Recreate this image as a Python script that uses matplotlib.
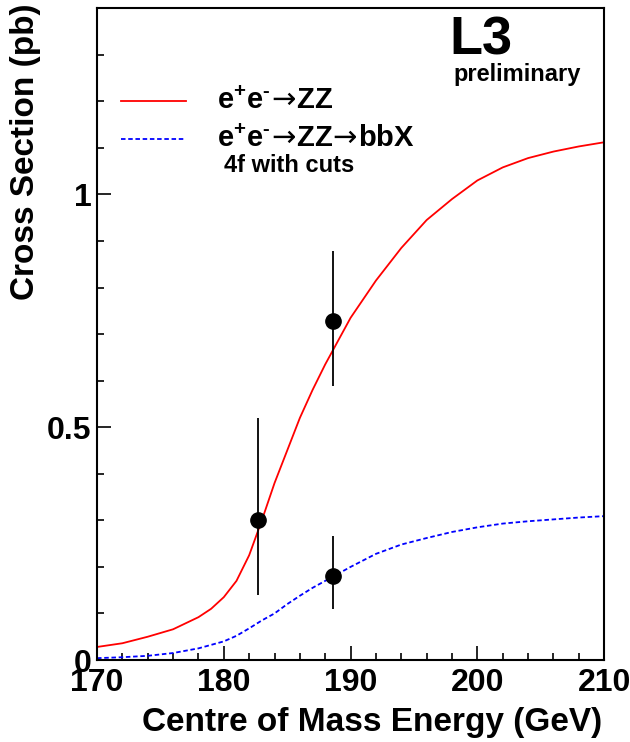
import numpy as np
import matplotlib
matplotlib.use("Agg")
import matplotlib.pyplot as plt
from matplotlib.ticker import MultipleLocator

# --- Data ---
energy_zz = [170, 172, 174, 176, 178, 179, 180, 181, 182, 183, 184, 185, 186, 187,
             188, 189, 190, 192, 194, 196, 198, 200, 202, 204, 206, 208, 210]
xsec_zz = [0.028, 0.036, 0.050, 0.066, 0.092, 0.110, 0.135, 0.170, 0.225, 0.300, 0.380,
           0.450, 0.520, 0.580, 0.635, 0.685, 0.735, 0.815, 0.885, 0.945, 0.990, 1.030,
           1.058, 1.078, 1.092, 1.103, 1.112]

energy_bb = [170, 172, 174, 176, 178, 180, 181, 182, 183, 184, 185, 186, 187, 188,
             189, 190, 192, 194, 196, 198, 200, 202, 204, 206, 208, 210]
xsec_bb = [0.004, 0.006, 0.009, 0.015, 0.025, 0.040, 0.052, 0.068, 0.085, 0.100, 0.120,
           0.138, 0.155, 0.170, 0.185, 0.200, 0.228, 0.248, 0.262, 0.275, 0.285, 0.293,
           0.298, 0.302, 0.306, 0.309]

data_energy = [182.7, 188.6, 188.6]
data_xsec = [0.30, 0.728, 0.18]
err_low = [0.16, 0.14, 0.07]
err_high = [0.22, 0.15, 0.087]

plt.rcParams['font.family'] = ['Liberation Sans', 'DejaVu Sans']
plt.rcParams['font.weight'] = 'bold'
plt.rcParams['mathtext.fontset'] = 'custom'
plt.rcParams['mathtext.rm'] = 'Liberation Sans:bold'
plt.rcParams['mathtext.bf'] = 'Liberation Sans:bold'
plt.rcParams['mathtext.it'] = 'Liberation Sans:bold'
plt.rcParams['mathtext.sf'] = 'DejaVu Sans:normal'

fig = plt.figure(figsize=(6.3, 7.42), dpi=100)
ax = fig.add_axes([0.154, 0.1105, 0.805, 0.8785])

ax.plot(energy_zz, xsec_zz, color='red', lw=1.3)
ax.plot(energy_bb, xsec_bb, color='blue', lw=1.3, ls=(0, (2.5, 1.5)))
ax.errorbar(data_energy, data_xsec, yerr=[err_low, err_high], fmt='o', color='black',
            ms=11, elinewidth=1.3, capsize=0)

ax.set_xlim(170, 210)
ax.set_ylim(0, 1.4)
ax.xaxis.set_major_locator(MultipleLocator(10))
ax.xaxis.set_minor_locator(MultipleLocator(2))
ax.yaxis.set_minor_locator(MultipleLocator(0.1))
ax.set_yticks([0, 0.5, 1])
ax.set_yticklabels(['0', '0.5', '1'])
ax.tick_params(which='both', direction='in', top=False, right=False, width=1.2)
ax.tick_params(which='major', length=10, labelsize=23, pad=4)
ax.tick_params(which='minor', length=5)
ax.tick_params(axis='x', pad=6)
for s in ax.spines.values():
    s.set_linewidth(1.5)

ax.set_xlabel('Centre of Mass Energy (GeV)', fontsize=24, fontweight='bold', ha='right')
ax.xaxis.set_label_coords(0.995, -0.072)
ax.set_ylabel('Cross Section (pb)', fontsize=24, fontweight='bold')
ax.yaxis.set_label_coords(-0.11, 0.78)

# Legend, drawn by hand like the original
arrow = r'$\!\mathsf{\rightarrow}\!$'
lep = r'e$^{+}$e$^{\text{-}}$'
ax.plot([171.9, 177.0], [1.20, 1.20], color='red', lw=1.3)
ax.plot([171.9, 177.0], [1.12, 1.12], color='blue', lw=1.3, ls=(0, (2.5, 1.5)))
ax.text(179.5, 1.20, lep + arrow + 'ZZ', fontsize=21, va='center')
ax.text(179.5, 1.12, lep + arrow + 'ZZ' + arrow + 'bbX', fontsize=21, va='center')
ax.text(180.0, 1.062, '4f with cuts', fontsize=17, va='center')

ax.text(197.8, 1.33, 'L3', fontsize=39, va='center')
ax.text(198.1, 1.257, 'preliminary', fontsize=17, va='center')

fig.savefig('out.png', dpi=100)
